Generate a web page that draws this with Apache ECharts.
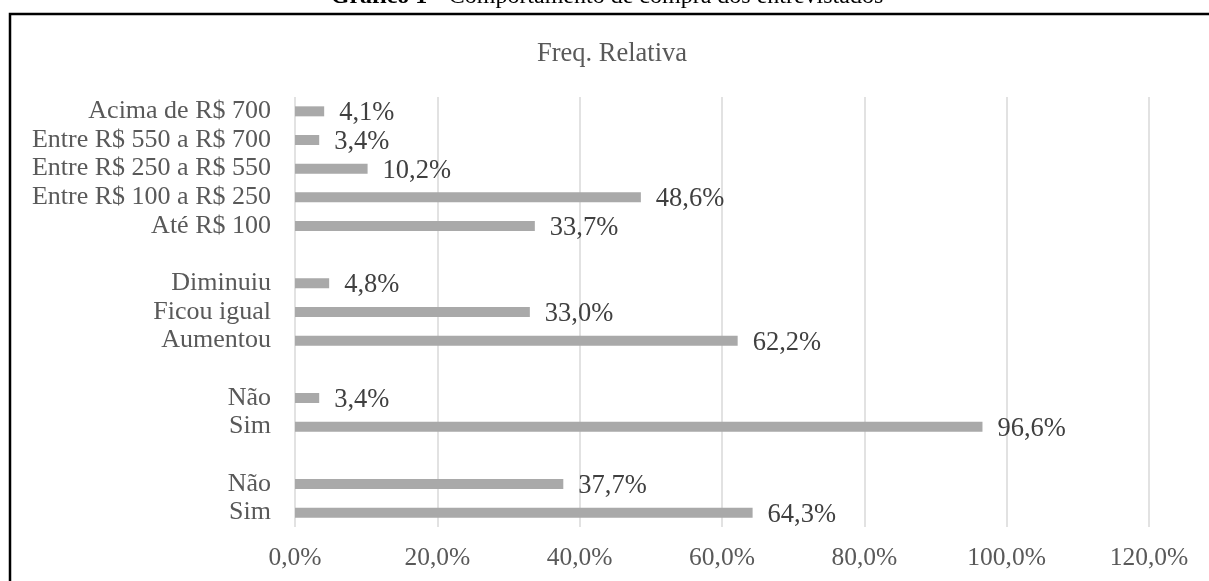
<!DOCTYPE html>
<html>
<head>
<meta charset="utf-8">
<script src="https://cdn.jsdelivr.net/npm/echarts@6/dist/echarts.min.js"></script>
<style>
  html, body { margin: 0; padding: 0; background: #ffffff; }
  #chart { width: 1209px; height: 581px; }
</style>
</head>
<body>
<div id="chart"></div>
<script>
// Response groups, listed top to bottom; empty strings are spacer rows between groups
const categories = [
  'Acima de R$ 700',
  'Entre R$ 550 a R$ 700',
  'Entre R$ 250 a R$ 550',
  'Entre R$ 100 a R$ 250',
  'Até R$ 100',
  '',
  'Diminuiu',
  'Ficou igual',
  'Aumentou',
  '',
  'Não',
  'Sim',
  '',
  'Não',
  'Sim'
];

// Relative frequency (%) for each row; null marks a spacer row
const freqRelativa = [4.1, 3.4, 10.2, 48.6, 33.7, null, 4.8, 33.0, 62.2, null, 3.4, 96.6, null, 37.7, 64.3];

// Horizontal axis ticks (%)
const axisMin = 0;
const axisMax = 120;
const axisStep = 20;

const serif = "'Liberation Serif', 'Times New Roman', serif";
const pct = v => v.toFixed(1).replace('.', ',') + '%';

const chart = echarts.init(document.getElementById('chart'), null, { renderer: 'canvas' });

chart.setOption({
  backgroundColor: '#ffffff',
  animation: false,
  textStyle: { fontFamily: serif },
  graphic: [
    {
      type: 'rect',
      shape: { x: 10, y: 14, width: 1400, height: 800 },
      style: { fill: 'none', stroke: '#000000', lineWidth: 2.5 },
      silent: true,
      z: 10
    },
    {
      type: 'text',
      x: 607,
      y: -3,
      style: {
        rich: {
          b: { fontFamily: serif, fontSize: 24, fontWeight: 'bold', fill: '#000000' },
          r: { fontFamily: serif, fontSize: 24, fill: '#000000' }
        },
        text: '{b|Gráfico 1} {r|– Comportamento de compra dos entrevistados}',
        textAlign: 'center',
        textVerticalAlign: 'middle'
      },
      silent: true
    },
    {
      type: 'text',
      x: 612,
      y: 54,
      style: {
        text: 'Freq. Relativa',
        fontFamily: serif,
        fontSize: 26.5,
        fill: '#595959',
        textAlign: 'center',
        textVerticalAlign: 'middle'
      },
      silent: true
    }
  ],
  grid: { left: 295, right: 60, top: 97, bottom: 54, containLabel: false },
  xAxis: {
    type: 'value',
    min: axisMin,
    max: axisMax,
    interval: axisStep,
    axisLine: { show: false },
    axisTick: { show: false },
    splitLine: { show: true, lineStyle: { color: '#d9d9d9', width: 1.5 } },
    axisLabel: {
      formatter: v => pct(v),
      color: '#595959',
      fontFamily: serif,
      fontSize: 25.5,
      margin: 18
    }
  },
  yAxis: {
    type: 'category',
    data: categories,
    inverse: true,
    axisLine: { show: false },
    axisTick: { show: false },
    splitLine: { show: false },
    axisLabel: {
      color: '#595959',
      fontFamily: serif,
      fontSize: 26,
      margin: 24,
      interval: 0
    }
  },
  series: [
    {
      type: 'bar',
      data: freqRelativa,
      barWidth: 10,
      itemStyle: { color: '#a9a9a9' },
      label: {
        show: true,
        position: 'right',
        distance: 15,
        offset: [0, 2],
        formatter: p => (p.value == null ? '' : pct(p.value)),
        color: '#404040',
        fontFamily: serif,
        fontSize: 26.5
      }
    }
  ]
});
</script>
</body>
</html>
